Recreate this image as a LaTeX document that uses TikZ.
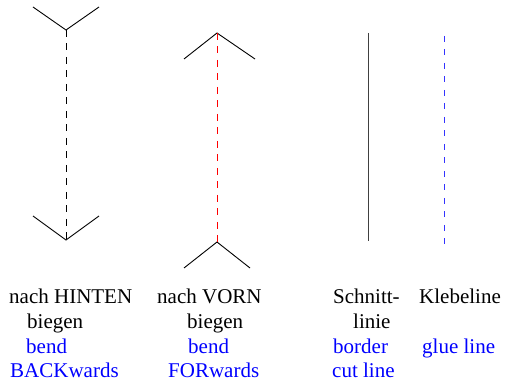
\documentclass[tikz,border=0pt]{standalone}
\usepackage{fontspec}
\setmainfont{Liberation Serif}
\usepackage{tikz}
\usetikzlibrary{positioning}

\tikzset{
	fold/.style={draw=black, line width=0.9pt},
	txt/.style={anchor=base west, inner sep=0pt, font=\fontsize{21}{25}\selectfont},
	eng/.style={txt, text=blue},
	back/.style={dash pattern=on 7pt off 6.5pt, line width=0.9pt},
}

\begin{document}
\begin{tikzpicture}[x=1pt, y=-1pt]
			\useasboundingbox (0,0) rectangle (506,382);
			
			% bend backwards
			\coordinate (b0) at (66,30);
			\coordinate (b1) at (66,240);
			\coordinate (bl0) at (33,7);
			\coordinate (br0) at (99,7);
			\coordinate (bl1) at (33,216);
			\coordinate (br1) at (99,216);
			\draw[fold] (bl0) -- (b0) -- (br0);
			\draw[fold] (bl1) -- (b1) -- (br1);
			\draw[back, black] (b0) -- (b1);
			
			% bend forwards
			\coordinate (f0) at (217,33);
			\coordinate (f1) at (217,242);
			\coordinate (fl0) at (184,59);
			\coordinate (fr0) at (255,59);
			\coordinate (fl1) at (184,268);
			\coordinate (fr1) at (250,268);
			\draw[fold] (fl0) -- (f0) -- (fr0);
			\draw[fold] (fl1) -- (f1) -- (fr1);
			\draw[back, red] (f0) -- (f1);
			
			% cut and glue
			\coordinate (c0) at (368,33);
			\coordinate (c1) at (368,241);
			\coordinate (g0) at (444,36);
			\coordinate (g1) at (444,247);
			\draw[black!75, line width=0.9pt] (c0) -- (c1);
			\draw[blue!80, line width=0.9pt, dash pattern=on 6pt off 7.5pt] (g0) -- (g1);
			
			\node[txt] (t1) at (9,303) {nach HINTEN};
			\node[txt] (t2) at (27,328) {biegen};
			\node[eng] (t3) at (26,353) {bend};
			\node[eng] (t4) at (10,377) {BACKwards};
			
			\node[txt] (v1) at (157,303) {nach VORN};
			\node[txt] (v2) at (187,328) {biegen};
			\node[eng] (v3) at (188,353) {bend};
			\node[eng] (v4) at (168,377) {FORwards};
			
			\node[txt] (s1) at (333,303) {Schnitt-};
			\node[txt] (s2) at (353,328) {linie};
			\node[eng] (s3) at (333,353) {border};
			\node[eng] (s4) at (332,377) {cut line};
			
			\node[txt] (k1) at (419,303) {Klebeline};
			\node[eng] (k3) at (422,353) {glue line};
\end{tikzpicture}
\end{document}
